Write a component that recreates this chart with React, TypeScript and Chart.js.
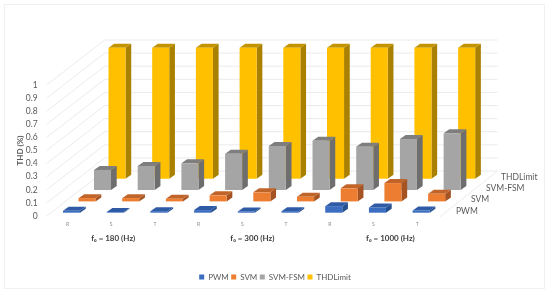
import React, { useEffect, useRef } from "react";
import { Chart, registerables } from "chart.js";

Chart.register(...registerables);

const phaseLabels = ["R", "S", "T", "R", "S", "T", "R", "S", "T"];
const groupLabels = ["f₀ = 180 (Hz)", "f₀ = 300 (Hz)", "f₀ = 1000 (Hz)"];
const seriesNames = ["PWM", "SVM", "SVM-FSM", "THDLimit"];
const pwm = [0.015, 0.005, 0.012, 0.02, 0.01, 0.012, 0.05, 0.04, 0.017];
const svm = [0.025, 0.025, 0.02, 0.046, 0.069, 0.035, 0.1, 0.14, 0.058];
const svmFsm = [0.153, 0.183, 0.204, 0.277, 0.336, 0.376, 0.331, 0.389, 0.433];
const thdLimit = [1, 1, 1, 1, 1, 1, 1, 1, 1];
const frontColors = ["#3b6dc0", "#ed7d31", "#a5a5a5", "#ffc000"];
const topColors = ["#2f5aa5", "#c0642a", "#7e7e7e", "#c39400"];
const sideColors = ["#26508f", "#a55322", "#6e6e6e", "#aa8000"];
const rowDx = [0, 15.5, 31, 45.5];
const rowDy = [-3.3, -14.6, -26, -37.3];
const groupShift = [-2, 6, 13];

const depth3d = {
  id: "depth3d",
  beforeDatasetsDraw(chart: any) {
    const { ctx, chartArea: a, scales } = chart;
    const y = scales.y;
    ctx.save();
    ctx.strokeStyle = "#ebebeb";
    ctx.lineWidth = 1;
    const wx = 58;
    const wy = 45;
    const left = a.left - 3;
    const right = left + wx + 393;
    for (const t of y.ticks) {
      const py = y.getPixelForValue(t.value);
      ctx.beginPath();
      ctx.moveTo(left, py);
      ctx.lineTo(left + wx, py - wy);
      ctx.lineTo(right, py - wy);
      ctx.stroke();
    }
    const by = y.getPixelForValue(0);
    ctx.beginPath();
    ctx.moveTo(right, by - wy);
    ctx.lineTo(right - wx, by + 1);
    ctx.stroke();
    ctx.restore();
  },
  beforeDatasetDraw(chart: any, args: any) {
    const { ctx } = chart;
    const i = args.index;
    const dx = rowDx[i];
    const dy = rowDy[i];
    ctx.save();
    ctx.translate(dx, dy);
    const sx = 5.7;
    const sy = 4;
    for (const bar of args.meta.data) {
      const l = bar.x - bar.width / 2;
      const r = bar.x + bar.width / 2;
      const t = bar.y;
      const b = bar.base;
      ctx.fillStyle = sideColors[i];
      ctx.beginPath();
      ctx.moveTo(r, t);
      ctx.lineTo(r + sx, t - sy);
      ctx.lineTo(r + sx, b - sy);
      ctx.lineTo(r, b);
      ctx.closePath();
      ctx.fill();
      ctx.fillStyle = topColors[i];
      ctx.beginPath();
      ctx.moveTo(l, t);
      ctx.lineTo(l + sx, t - sy);
      ctx.lineTo(r + sx, t - sy);
      ctx.lineTo(r, t);
      ctx.closePath();
      ctx.fill();
    }
  },
  afterDatasetDraw(chart: any) {
    chart.ctx.restore();
  },
  afterDraw(chart: any) {
    const { ctx, scales, canvas } = chart;
    const x = scales.x;
    ctx.save();
    ctx.fillStyle = "#404040";
    ctx.font = "bold 8px Lato";
    ctx.textAlign = "center";
    ctx.textBaseline = "middle";
    groupLabels.forEach((g, k) => {
      const c = x.getPixelForValue(k * 3 + 1);
      ctx.fillText(g, c + groupShift[k], 238.5);
    });
    ctx.fillStyle = "#595959";
    ctx.font = "8.5px Lato";
    ctx.textAlign = "left";
    const bx = x.right;
    seriesNames.forEach((s, k) => {
      ctx.fillText(s, bx + 13 + k * 15, 211 - k * 11.3);
    });
    ctx.restore();
    ctx.save();
    ctx.strokeStyle = "#f0f0f0";
    ctx.strokeRect(4.5, 4.5, canvas.width - 10, canvas.height - 10);
    ctx.restore();
  },
};

export default function App() {
  const ref = useRef<HTMLCanvasElement>(null);
  useEffect(() => {
    const base = { grouped: false, barPercentage: 0.39, categoryPercentage: 1, clip: false, borderWidth: 0 };
    const chart = new Chart(ref.current!, {
      type: "bar",
      data: {
        labels: phaseLabels,
        datasets: [pwm, svm, svmFsm, thdLimit].map((d, i) => ({
          ...base,
          label: seriesNames[i],
          data: d,
          backgroundColor: frontColors[i],
        })),
      },
      options: {
        responsive: false,
        animation: false,
        layout: { padding: { top: 85, right: 0, bottom: 3 } },
        plugins: {
          tooltip: { enabled: false },
          legend: {
            position: "bottom",
            labels: {
              boxWidth: 5,
              boxHeight: 5,
              padding: 2.5,
              color: "#595959",
              font: { family: "Lato", size: 8 },
            },
          },
        },
        scales: {
          x: {
            grid: { display: false, drawTicks: false },
            border: { display: false },
            ticks: {
              color: "#8c8c8c",
              font: { family: "Lato", size: 5 },
              padding: 5,
              maxRotation: 0,
              autoSkip: false,
              labelOffset: -4,
            },
            afterFit: (s: any) => { s.height = 54.5; },
          },
          y: {
            min: 0,
            max: 1,
            grid: { display: false, drawTicks: false },
            border: { display: false },
            ticks: {
              stepSize: 0.1,
              autoSkip: false,
              color: "#595959",
              font: { family: "Lato", size: 8.5 },
              padding: 12,
              callback: (v: any) => String(+Number(v).toFixed(1)),
            },
            title: {
              display: true,
              text: "THD (%)",
              color: "#595959",
              padding: { top: 16, bottom: 0 },
              font: { family: "Lato", size: 8, weight: "bold" },
            },
            afterFit: (s: any) => { s.width = 49.65; },
          },
          yRight: {
            position: "right",
            grid: { display: false },
            border: { display: false },
            ticks: { display: false },
            afterFit: (s: any) => { s.width = 107; },
          },
        },
      },
      plugins: [depth3d],
    } as any);
    return () => chart.destroy();
  }, []);
  return (
    <div style={{ position: "absolute", left: 0, top: 0, background: "#fff" }}>
      <canvas ref={ref} width={550} height={294} style={{ display: "block" }} />
    </div>
  );
}
